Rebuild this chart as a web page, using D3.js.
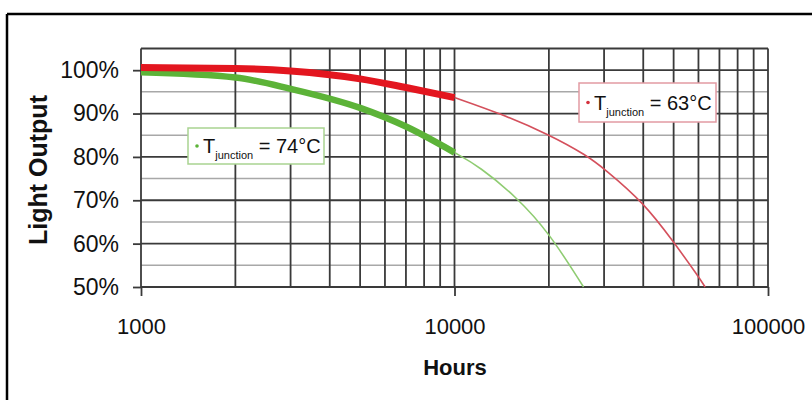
<!DOCTYPE html>
<html>
<head>
<meta charset="utf-8">
<script src="https://cdn.jsdelivr.net/npm/d3@7"></script>
<style>
	body { margin: 0; background: #fff; }
	svg { display: block; font-family: "Liberation Sans", Arial, sans-serif; }
</style>
</head>
<body>
<div id="chart"></div>
<script>
// 読み取った値 (時間, 光出力%)
const hoursTick = [1000, 10000, 100000];
const hoursGrid = [2000, 3000, 4000, 5000, 6000, 7000, 8000, 9000,
	20000, 30000, 40000, 50000, 60000, 70000, 80000, 90000];
const outputTicks = [50, 60, 70, 80, 90, 100];
const outputMinor = [55, 65, 75, 85, 95];

// Tjunction = 63°C
const redHoursMeasured = [1000, 2000, 3000, 5000, 7000, 10000];
const redMeasured = [100.6, 100.4, 99.8, 98.0, 96.0, 93.7];
const redHoursProjected = [10000, 14000, 20000, 26500, 30000, 40000, 50000, 60000, 63000];
const redProjected = [93.7, 90.0, 85.2, 80.3, 77.3, 69.6, 60.4, 52.4, 50.0];

// Tjunction = 74°C
const greenHoursMeasured = [1000, 2000, 3000, 5000, 7000, 10000];
const greenMeasured = [99.5, 98.3, 95.7, 91.3, 87.0, 81.0];
const greenHoursProjected = [10000, 12000, 15800, 20000, 25800];
const greenProjected = [81.0, 77.8, 70.7, 62.6, 50.0];

const legendTemps = ["74°C", "63°C"];

const width = 812, height = 400;
const svg = d3.select("#chart").append("svg")
	.attr("width", width)
	.attr("height", height);

// 外枠
svg.append("line").attr("x1", 7).attr("x2", width).attr("y1", 14).attr("y2", 14)
	.attr("stroke", "#000").attr("stroke-width", 2.5);
svg.append("line").attr("x1", 7).attr("x2", 7).attr("y1", 14).attr("y2", height)
	.attr("stroke", "#000").attr("stroke-width", 2.5);

const x = d3.scaleLog().domain([1000, 100000]).range([141, 768]);
const y = d3.scaleLinear().domain([50, 105]).range([287, 48.5]);

const grid = svg.append("g");
// 補助線 (5%)
grid.selectAll("line.minor").data(outputMinor).join("line")
	.attr("class", "minor")
	.attr("x1", x.range()[0]).attr("x2", x.range()[1])
	.attr("y1", d => y(d)).attr("y2", d => y(d))
	.attr("stroke", "#a8a8a8").attr("stroke-width", 1.5);
// 主線 (10%)
grid.selectAll("line.major").data(outputTicks.concat([105])).join("line")
	.attr("class", "major")
	.attr("x1", x.range()[0]).attr("x2", x.range()[1])
	.attr("y1", d => y(d)).attr("y2", d => y(d))
	.attr("stroke", "#3a3a3a").attr("stroke-width", 1.8);
// 縦線
grid.selectAll("line.v").data(hoursGrid.concat(hoursTick)).join("line")
	.attr("class", "v")
	.attr("x1", d => x(d)).attr("x2", d => x(d))
	.attr("y1", y(105)).attr("y2", y(50))
	.attr("stroke", "#3a3a3a").attr("stroke-width", 1.8);

// 軸
const xAxis = d3.axisBottom(x).tickValues(hoursTick).tickSize(9).tickPadding(22)
	.tickFormat(d3.format("d"));
const gx = svg.append("g").attr("transform", `translate(0,${y(50)})`).call(xAxis);
gx.select(".domain").remove();
gx.selectAll(".tick line").attr("stroke", "#3a3a3a").attr("stroke-width", 1.8);
gx.selectAll(".tick text").attr("font-size", 22).attr("fill", "#111")
	.attr("font-family", "'Liberation Sans', Arial, sans-serif");

const yAxis = d3.axisLeft(y).tickValues(outputTicks).tickSize(8).tickPadding(14)
	.tickFormat(d => d + "%");
const gy = svg.append("g").attr("transform", `translate(${x(1000)},0)`).call(yAxis);
gy.select(".domain").remove();
gy.selectAll(".tick line").attr("stroke", "#3a3a3a").attr("stroke-width", 1.8);
gy.selectAll(".tick text").attr("font-size", 23).attr("fill", "#111")
	.attr("font-family", "'Liberation Sans', Arial, sans-serif");

// 軸タイトル
svg.append("text")
	.attr("x", 455).attr("y", 375)
	.attr("text-anchor", "middle")
	.attr("font-size", 22).attr("font-weight", "bold").attr("fill", "#111")
	.text("Hours");
svg.append("text")
	.attr("transform", "translate(47,170) rotate(-90)")
	.attr("text-anchor", "middle")
	.attr("font-size", 25).attr("font-weight", "bold").attr("fill", "#111")
	.text("Light Output");

// 曲線
const lineMeasured = d3.line()
	.x(d => x(d[0]))
	.y(d => y(d[1]))
	.curve(d3.curveMonotoneX);
const lineProjected = d3.line()
	.x(d => x(d[0]))
	.y(d => y(d[1]))
	.curve(d3.curveBasis);

const curves = [
	{ h: greenHoursProjected, v: greenProjected, color: "#8fcc72", w: 1.6, gen: lineProjected },
	{ h: redHoursProjected, v: redProjected, color: "#d4505c", w: 1.6, gen: lineProjected },
	{ h: greenHoursMeasured, v: greenMeasured, color: "#5cb338", w: 6.5, gen: lineMeasured },
	{ h: redHoursMeasured, v: redMeasured, color: "#e3161f", w: 7, gen: lineMeasured }
];
svg.append("g").selectAll("path").data(curves).join("path")
	.attr("fill", "none")
	.attr("stroke", d => d.color)
	.attr("stroke-width", d => d.w)
	.attr("stroke-linecap", "butt")
	.attr("d", d => d.gen(d.h.map((h, i) => [h, d.v[i]])));

// 凡例
const legends = [
	{ temp: legendTemps[0], x0: 188, y0: 128, w: 136, h: 36, border: "#a9d391", dot: "#5cb338" },
	{ temp: legendTemps[1], x0: 579, y0: 83, w: 137, h: 39, border: "#e29aa3", dot: "#d4303c" }
];
const lg = svg.append("g").selectAll("g").data(legends).join("g")
	.attr("transform", d => `translate(${d.x0},${d.y0})`);
lg.append("rect")
	.attr("width", d => d.w).attr("height", d => d.h)
	.attr("fill", "#fff").attr("stroke", d => d.border).attr("stroke-width", 1.5);
lg.append("circle")
	.attr("cx", 9).attr("cy", d => d.h / 2).attr("r", 1.8)
	.attr("fill", d => d.dot);
const lt = lg.append("text")
	.attr("x", 15).attr("y", d => d.h / 2 + 7)
	.attr("font-size", 20).attr("fill", "#111");
lt.append("tspan").text("T");
lt.append("tspan").attr("font-size", 11).attr("dy", 6).text("junction");
lt.append("tspan").attr("dy", -6).text(d => " = " + d.temp);
</script>
</body>
</html>
